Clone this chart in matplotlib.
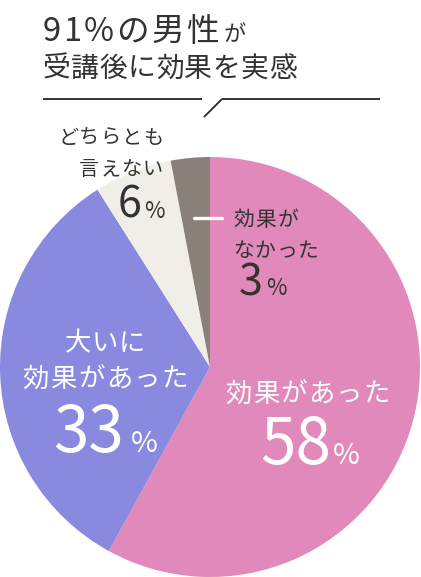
import matplotlib

matplotlib.use("Agg")
from matplotlib import pyplot as plt

plt.rcParams["font.family"] = ["Noto Sans CJK JP", "DejaVu Sans"]

# data
labels = ["効果があった", "大いに効果があった", "どちらとも言えない", "効果がなかった"]
shares = [58, 33, 6, 3]
colors = ["#E189BA", "#8A89E0", "#F1EEE8", "#8A807A"]

TEXT = "#333333"
WHITE = "#FFFFFF"
W, H = 421, 577

fig = plt.figure(figsize=(W / 100, H / 100), dpi=100)
fig.patch.set_facecolor(WHITE)
ax = fig.add_axes([0, 0, 1, 1])

# y runs downward here, so start at -90 and go counterclockwise in data:
# on screen that is clockwise from twelve o'clock
ax.pie(
    shares,
    colors=colors,
    startangle=-90,
    counterclock=True,
    center=(210, 367),
    radius=210,
    wedgeprops={"linewidth": 0},
)
ax.set_xlim(0, W)
ax.set_ylim(H, 0)
ax.set_aspect("auto")
ax.axis("off")

renderer = fig.canvas.get_renderer()


def spread(s, x0, x1, y, size, color=TEXT):
    """Letter-spaced text running from x0 to x1 (axes units are pixels)."""
    parts = [ax.text(0, y, ch, fontsize=size, color=color, ha="left", va="baseline") for ch in s]
    widths = [t.get_window_extent(renderer).width for t in parts]
    gap = max((x1 - x0 - sum(widths)) / max(len(parts) - 1, 1), 0.5)
    x = x0
    for t, w in zip(parts, widths):
        t.set_x(x)
        x += w + gap


def text(x, y, s, size, color=TEXT, ha="left"):
    ax.text(x, y, s, fontsize=size, color=color, ha=ha, va="baseline")


# heading
spread("91%の男性", 43, 219, 41, 23.5)
text(224, 41, "が", 16)
spread("受講後に効果を実感", 43, 293, 77, 20)

line_kw = {"color": TEXT, "linewidth": 1.4, "solid_capstyle": "butt"}
ax.plot([43, 202], [99, 99], **line_kw)
ax.plot([204, 222], [117, 99], **line_kw)
ax.plot([222, 380], [99, 99], **line_kw)

# どちらとも言えない
spread("どちらとも", 58, 163, 144, 14.5)
spread("言えない", 79, 163, 175, 14.5)
text(141, 218, str(shares[2]), 31, ha="right")
text(144, 218, "%", 16)

# 効果がなかった
ax.plot([194, 222], [218, 218], color=WHITE, linewidth=2.4, solid_capstyle="round")
spread("効果が", 233, 299, 226, 15)
spread("なかった", 233, 319, 257, 15)
text(263, 295, str(shares[3]), 31, ha="right")
text(266, 295, "%", 16)

# 大いに効果があった
spread("大いに", 65, 143, 351, 19, WHITE)
spread("効果があった", 22, 188, 387, 19, WHITE)
text(124, 452, str(shares[1]), 46, WHITE, ha="right")
text(131, 452, "%", 21, WHITE)

# 効果があった
spread("効果があった", 225, 390, 402, 19, WHITE)
text(331, 464, str(shares[0]), 46, WHITE, ha="right")
text(333, 464, "%", 21, WHITE)

fig.savefig("out.png", dpi=100)
plt.close(fig)
